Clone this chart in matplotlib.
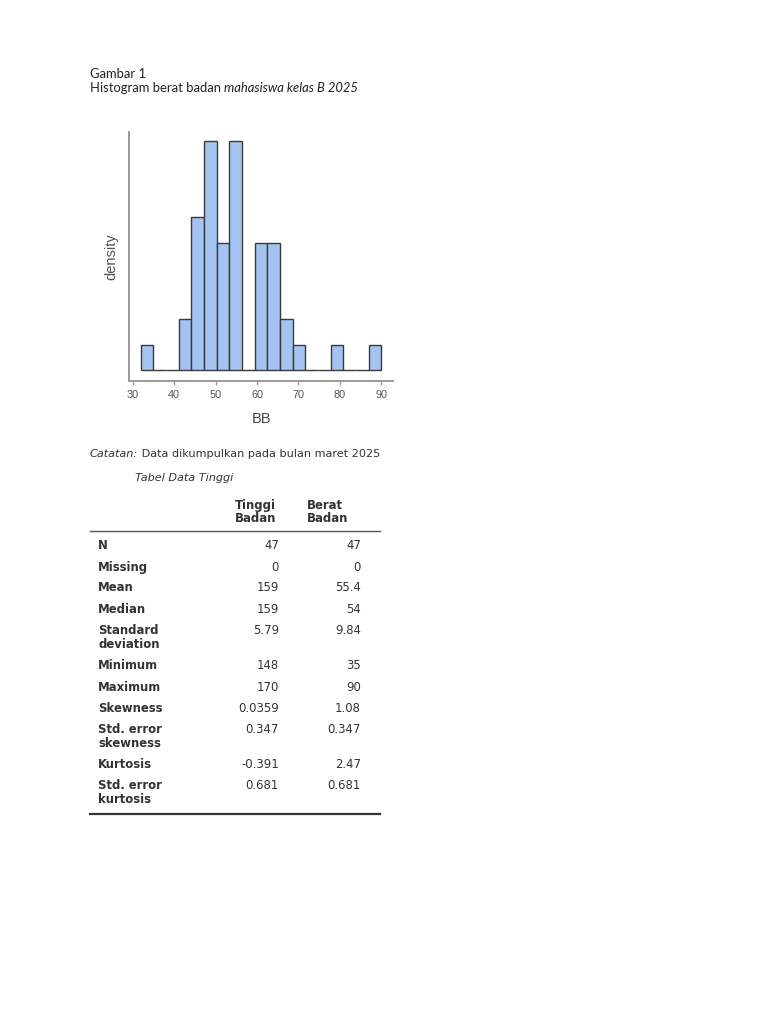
import numpy as np
import matplotlib
matplotlib.use("Agg")
import matplotlib.pyplot as plt

# histogram data (counts per bin)
bin_start = 35 - 55 / 18
bin_width = 55 / 18
counts = [1, 0, 0, 2, 6, 9, 5, 9, 0, 5, 5, 2, 1, 0, 0, 1, 0, 0, 1]
xticks = [30, 40, 50, 60, 70, 80, 90]

# table data
col_headers = ["Tinggi\nBadan", "Berat\nBadan"]
row_labels = ["N", "Missing", "Mean", "Median", "Standard\ndeviation", "Minimum",
              "Maximum", "Skewness", "Std. error\nskewness", "Kurtosis", "Std. error\nkurtosis"]
tinggi = ["47", "0", "159", "159", "5.79", "148", "170", "0.0359", "0.347", "-0.391", "0.681"]
berat = ["47", "0", "55.4", "54", "9.84", "35", "90", "1.08", "0.347", "2.47", "0.681"]
row_y = [549, 570.7, 591.3, 613, 634, 669, 690.7, 711.7, 733.3, 768.3, 789.3]

W, H = 768, 1024
fig = plt.figure(figsize=(W / 100, H / 100), dpi=100)


def fx(x):
    return x / W


def fy(y):
    return 1 - y / H


def line_after(first, second, x, y, size, family, style1, style2, color):
    r = fig.canvas.get_renderer()
    t = fig.text(fx(x), fy(y), first, fontsize=size, family=family, style=style1,
                 color=color, va="baseline")
    bb = t.get_window_extent(renderer=r)
    fig.text(bb.x1 / W, fy(y), second, fontsize=size, family=family, style=style2,
             color=color, va="baseline")


# heading
fig.text(fx(90), fy(77.7), "Gambar 1", fontsize=9.4, family="Lato", color="#222", va="baseline")
line_after("Histogram berat badan ", "mahasiswa kelas B 2025", 90, 92.3, 9.4, "Lato",
           "normal", "italic", "#222")

# histogram
ax = fig.add_axes([fx(129.3), fy(380.7), (393 - 129.3) / W, (380.7 - 131.7) / H])
lefts = bin_start + bin_width * np.arange(len(counts))
ax.bar(lefts, counts, width=bin_width, align="edge", color="#a4c3f1",
       edgecolor="#3a3a3a", linewidth=1.0)
ax.set_xlim(29.18, 92.8)
ax.set_ylim(-0.42, 9.35)
ax.set_xticks(xticks)
ax.set_yticks([])
for s in ["top", "right"]:
    ax.spines[s].set_visible(False)
for s in ["left", "bottom"]:
    ax.spines[s].set_color("#9a9a9a")
    ax.spines[s].set_linewidth(1.4)
ax.tick_params(axis="x", length=3, width=1, color="#9a9a9a", labelsize=7.8,
               labelcolor="#555", pad=4)
for lab in ax.get_xticklabels():
    lab.set_family("Liberation Sans")
ax.set_xlabel("BB", fontsize=10.5, family="Liberation Sans", color="#444", labelpad=8)
ax.set_ylabel("density", fontsize=10.5, family="Liberation Sans", color="#555", labelpad=8)

# note and table
line_after("Catatan:", " Data dikumpulkan pada bulan maret 2025", 90, 457.3, 8.15,
           "DejaVu Sans", "italic", "normal", "#333")
fig.text(fx(135), fy(480.7), "Tabel Data Tinggi", fontsize=8.15, family="DejaVu Sans",
         style="italic", color="#333", va="baseline")

for hx, h in zip([235, 306.7], col_headers):
    a, b = h.split("\n")
    fig.text(fx(hx), fy(509), a, fontsize=8.4, weight="bold", color="#333", va="baseline")
    fig.text(fx(hx), fy(522.3), b, fontsize=8.4, weight="bold", color="#333", va="baseline")

for y, lab, v1, v2 in zip(row_y, row_labels, tinggi, berat):
    parts = lab.split("\n")
    for k, p in enumerate(parts):
        fig.text(fx(98.3), fy(y + 13.7 * k), p, fontsize=8.4, weight="bold",
                 color="#333", va="baseline")
    fig.text(fx(279), fy(y), v1, fontsize=8.4, color="#333", va="baseline", ha="right")
    fig.text(fx(361), fy(y), v2, fontsize=8.4, color="#333", va="baseline", ha="right")

fig.add_artist(plt.Line2D([fx(90), fx(380)], [fy(530.7), fy(530.7)], color="#555",
                          linewidth=1.0))
fig.add_artist(plt.Line2D([fx(90), fx(380)], [fy(814.3), fy(814.3)], color="#333",
                          linewidth=1.6))

fig.savefig("out.png", dpi=100, facecolor="white")
